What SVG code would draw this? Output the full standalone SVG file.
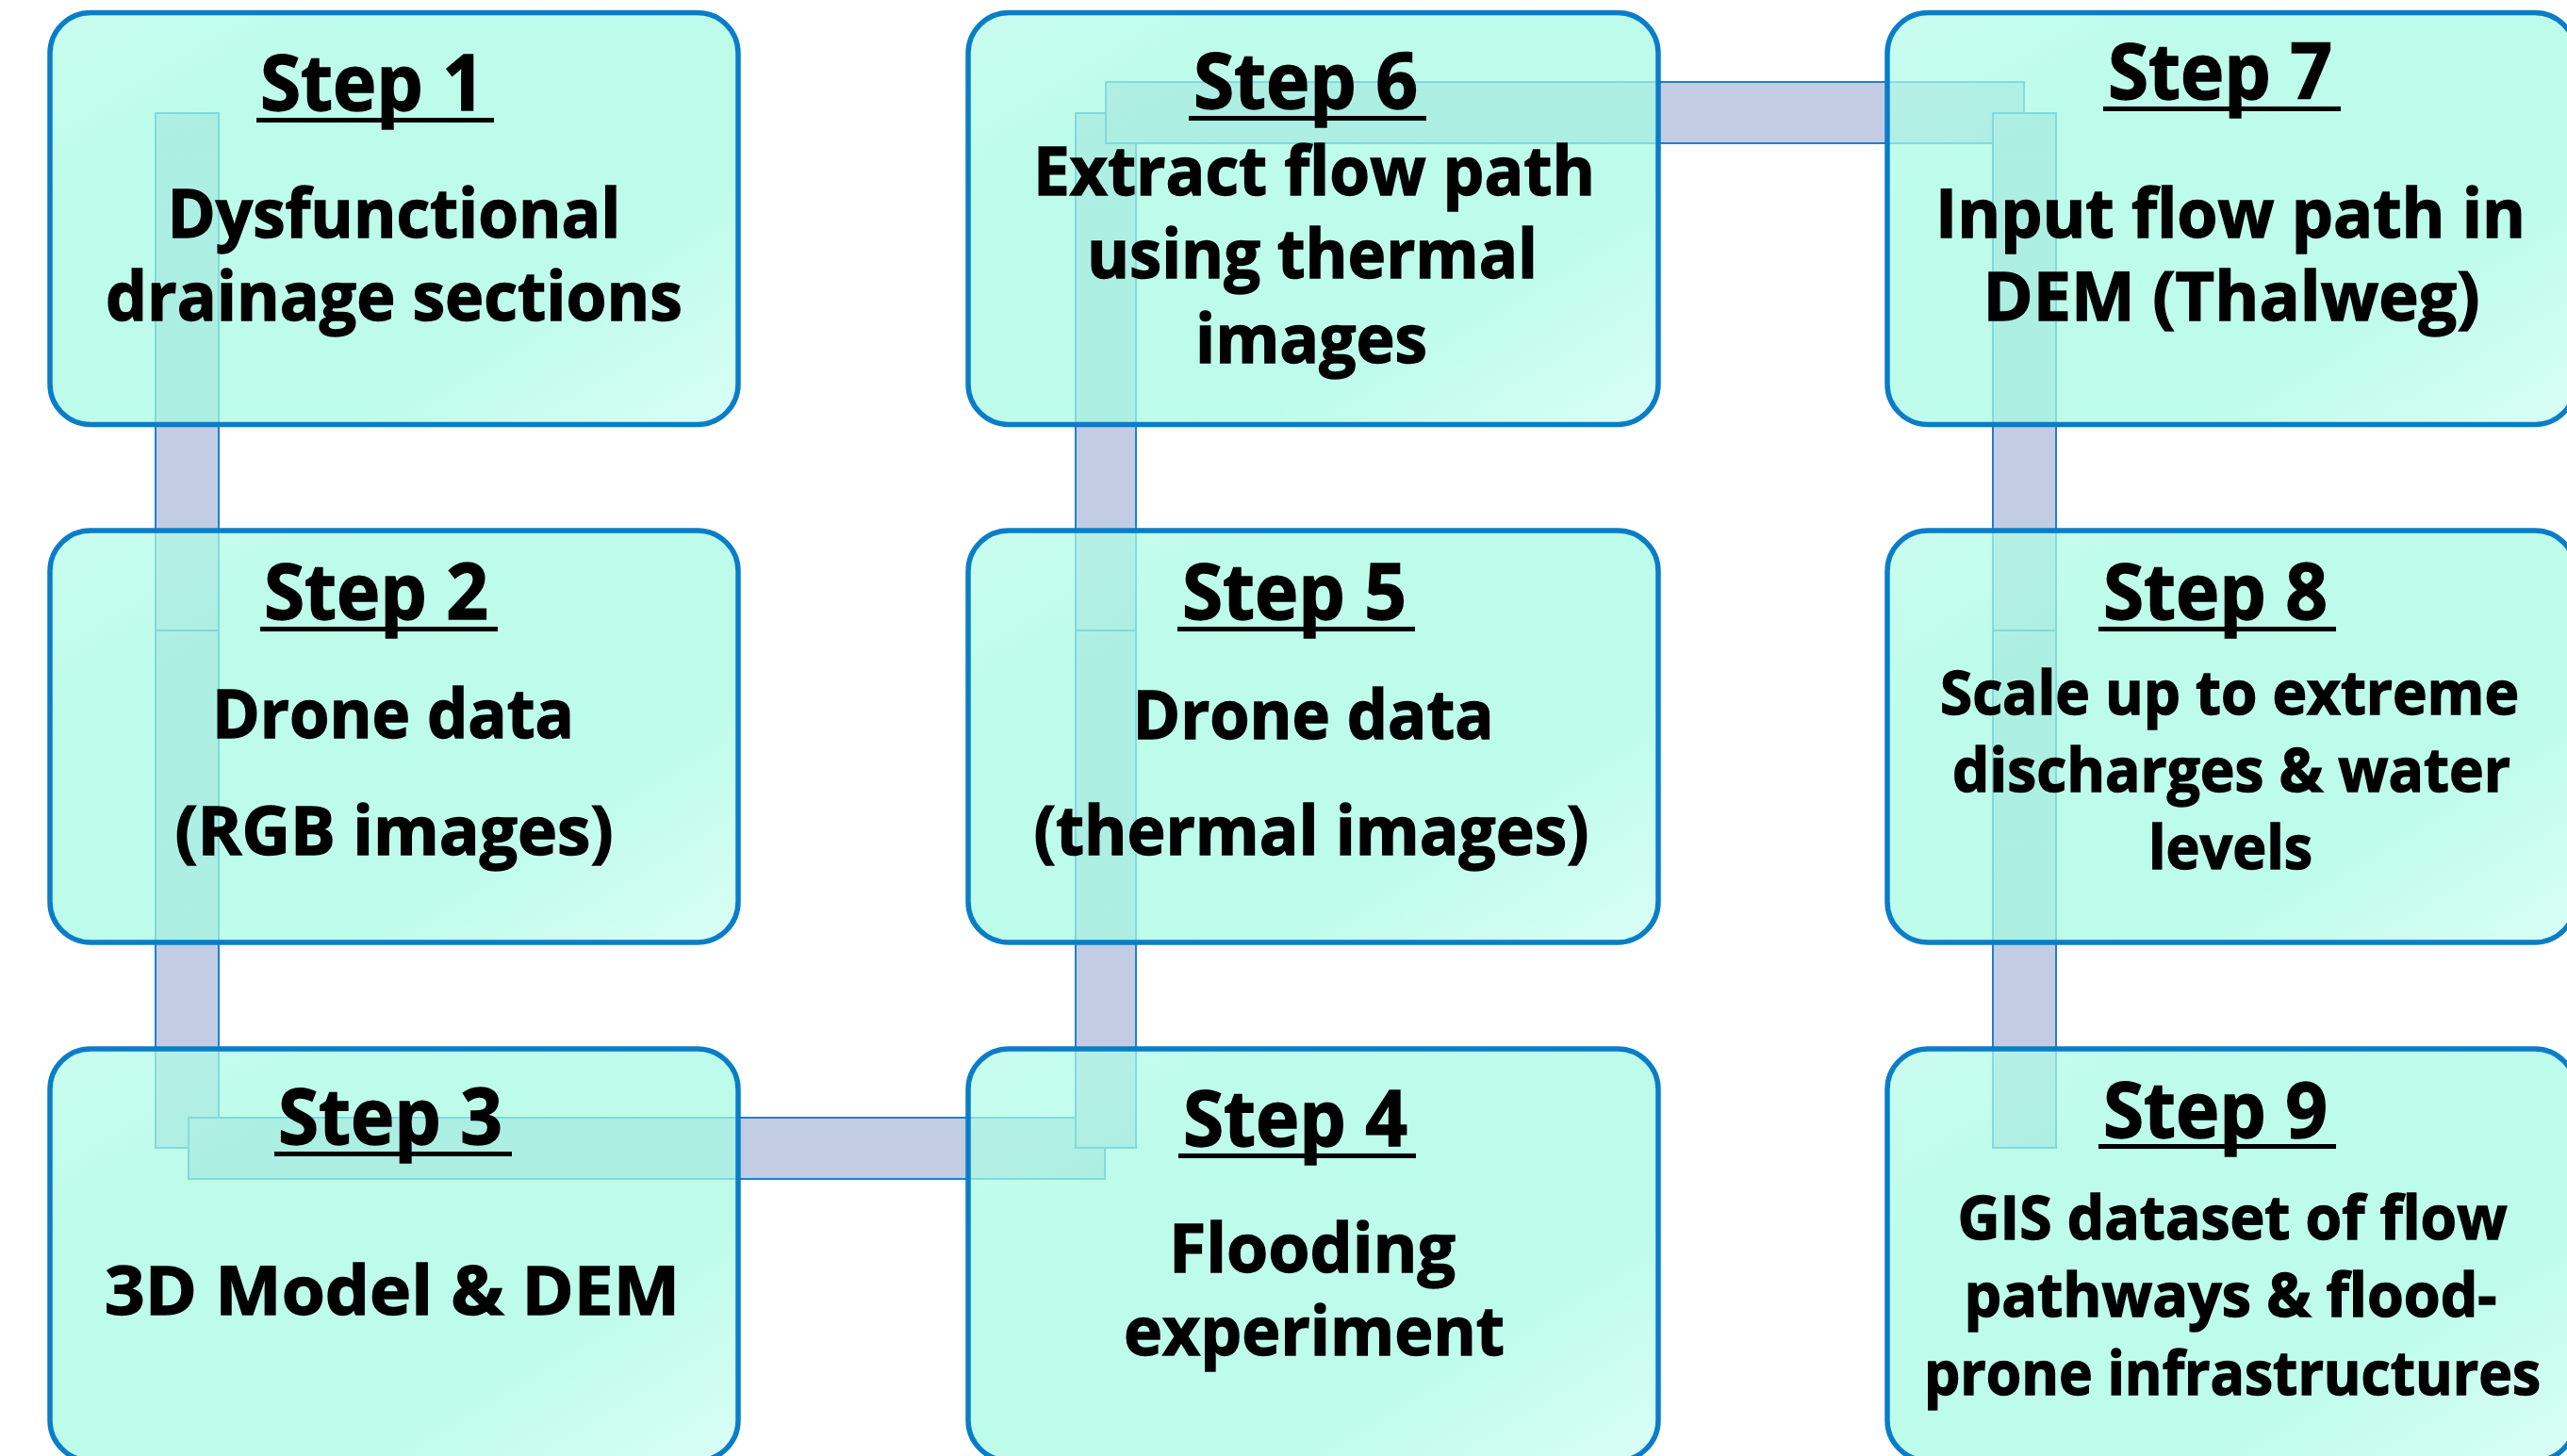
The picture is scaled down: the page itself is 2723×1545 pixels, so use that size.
<svg xmlns="http://www.w3.org/2000/svg" width="2723" height="1545" viewBox="0 0 2723 1545">
  <style>
    .bar { fill: #C2CDE4; stroke: #1F7FCF; stroke-width: 2; }
    .box { fill: url(#boxFill); fill-opacity: 0.73; stroke: #0A7DC8; stroke-width: 5.5; }
    .title { font-family: "Open Sans", "Liberation Sans", sans-serif; font-weight: 700; font-size: 82px; fill: #000; stroke: #000; stroke-width: 1.4; text-anchor: middle; }
    .body { font-family: "Open Sans", "Liberation Sans", sans-serif; font-weight: 700; font-size: 72px; fill: #000; stroke: #000; stroke-width: 1.4; text-anchor: middle; }
    .small { font-size: 64px; }
    .ul { fill: #000; }
  </style>
  <defs>
    <linearGradient id="boxFill" x1="0" y1="0" x2="1" y2="1">
      <stop offset="0" stop-color="#B6FDE9"/>
      <stop offset="0.25" stop-color="#A5FBE2"/>
      <stop offset="0.7" stop-color="#A5FBE2"/>
      <stop offset="1" stop-color="#CCFEF1"/>
    </linearGradient>
  </defs>
  <rect width="2723" height="1545" fill="#FFFFFF"/>

  <!-- flow bars linking the steps, drawn under the boxes -->
  <g id="connectors">
    <rect class="bar" x="165" y="120" width="67" height="549"/>
    <rect class="bar" x="165" y="669" width="67" height="549"/>
    <rect class="bar" x="200" y="1186" width="972" height="65"/>
    <rect class="bar" x="1141" y="669" width="64" height="549"/>
    <rect class="bar" x="1141" y="120" width="64" height="549"/>
    <rect class="bar" x="1173" y="87" width="974" height="65"/>
    <rect class="bar" x="2114" y="120" width="67" height="549"/>
    <rect class="bar" x="2114" y="669" width="67" height="549"/>
  </g>

  <g id="step1">
    <rect class="box" x="53" y="13.5" width="730" height="437" rx="43" ry="43"/>
    <text class="title" x="395" y="117" textLength="238" lengthAdjust="spacingAndGlyphs">Step 1</text>
    <rect class="ul" x="272" y="125" width="252" height="5"/>
    <text class="body" x="418" y="252" textLength="481" lengthAdjust="spacingAndGlyphs">Dysfunctional</text>
    <text class="body" x="418" y="340" textLength="612" lengthAdjust="spacingAndGlyphs">drainage sections</text>
  </g>

  <g id="step2">
    <rect class="box" x="53" y="563" width="730" height="437" rx="43" ry="43"/>
    <text class="title" x="399" y="657" textLength="238" lengthAdjust="spacingAndGlyphs">Step 2</text>
    <rect class="ul" x="276" y="665" width="252" height="5"/>
    <text class="body" x="417" y="783" textLength="384" lengthAdjust="spacingAndGlyphs">Drone data</text>
    <text class="body" x="418" y="907" textLength="465" lengthAdjust="spacingAndGlyphs">(RGB images)</text>
  </g>

  <g id="step3">
    <rect class="box" x="53" y="1113" width="730" height="437" rx="43" ry="43"/>
    <text class="title" x="414" y="1214" textLength="238" lengthAdjust="spacingAndGlyphs">Step 3</text>
    <rect class="ul" x="291" y="1222" width="252" height="5"/>
    <text class="body" x="416" y="1395" textLength="610" lengthAdjust="spacingAndGlyphs">3D Model &amp; DEM</text>
  </g>

  <g id="step4">
    <rect class="box" x="1027" y="1113" width="732" height="437" rx="43" ry="43"/>
    <text class="title" x="1374" y="1216" textLength="238" lengthAdjust="spacingAndGlyphs">Step 4</text>
    <rect class="ul" x="1250" y="1224" width="252" height="5"/>
    <text class="body" x="1392" y="1350" textLength="304" lengthAdjust="spacingAndGlyphs">Flooding</text>
    <text class="body" x="1394" y="1438" textLength="404" lengthAdjust="spacingAndGlyphs">experiment</text>
  </g>

  <g id="step5">
    <rect class="box" x="1027" y="563" width="732" height="437" rx="43" ry="43"/>
    <text class="title" x="1373" y="657" textLength="238" lengthAdjust="spacingAndGlyphs">Step 5</text>
    <rect class="ul" x="1249" y="665" width="252" height="5"/>
    <text class="body" x="1393" y="784" textLength="383" lengthAdjust="spacingAndGlyphs">Drone data</text>
    <text class="body" x="1391" y="907" textLength="589" lengthAdjust="spacingAndGlyphs">(thermal images)</text>
  </g>

  <g id="step6">
    <rect class="box" x="1027" y="13.5" width="732" height="437" rx="43" ry="43"/>
    <text class="title" x="1385" y="115" textLength="238" lengthAdjust="spacingAndGlyphs">Step 6</text>
    <rect class="ul" x="1261" y="123" width="252" height="5"/>
    <text class="body" x="1394" y="207" textLength="596" lengthAdjust="spacingAndGlyphs">Extract flow path</text>
    <text class="body" x="1392" y="295" textLength="478" lengthAdjust="spacingAndGlyphs">using thermal</text>
    <text class="body" x="1391" y="385" textLength="246" lengthAdjust="spacingAndGlyphs">images</text>
  </g>

  <g id="step7">
    <rect class="box" x="2002" y="13.5" width="730" height="437" rx="43" ry="43"/>
    <text class="title" x="2355" y="105" textLength="238" lengthAdjust="spacingAndGlyphs">Step 7</text>
    <rect class="ul" x="2231" y="113" width="252" height="5"/>
    <text class="body" x="2366" y="252" textLength="626" lengthAdjust="spacingAndGlyphs">Input flow path in</text>
    <text class="body" x="2367" y="340" textLength="527" lengthAdjust="spacingAndGlyphs">DEM (Thalweg)</text>
  </g>

  <g id="step8">
    <rect class="box" x="2002" y="563" width="730" height="437" rx="43" ry="43"/>
    <text class="title" x="2350" y="657" textLength="238" lengthAdjust="spacingAndGlyphs">Step 8</text>
    <rect class="ul" x="2226" y="665" width="252" height="5"/>
    <text class="body small" x="2365" y="758" textLength="614" lengthAdjust="spacingAndGlyphs">Scale up to extreme</text>
    <text class="body small" x="2367" y="840" textLength="592" lengthAdjust="spacingAndGlyphs">discharges &amp; water</text>
    <text class="body small" x="2366" y="922" textLength="174" lengthAdjust="spacingAndGlyphs">levels</text>
  </g>

  <g id="step9">
    <rect class="box" x="2002" y="1113" width="730" height="437" rx="43" ry="43"/>
    <text class="title" x="2350" y="1207" textLength="238" lengthAdjust="spacingAndGlyphs">Step 9</text>
    <rect class="ul" x="2226" y="1214" width="252" height="5"/>
    <text class="body small" x="2368" y="1315" textLength="583" lengthAdjust="spacingAndGlyphs">GIS dataset of flow</text>
    <text class="body small" x="2366" y="1397" textLength="565" lengthAdjust="spacingAndGlyphs">pathways &amp; flood-</text>
    <text class="body small" x="2368" y="1480" textLength="654" lengthAdjust="spacingAndGlyphs">prone infrastructures</text>
  </g>
</svg>
